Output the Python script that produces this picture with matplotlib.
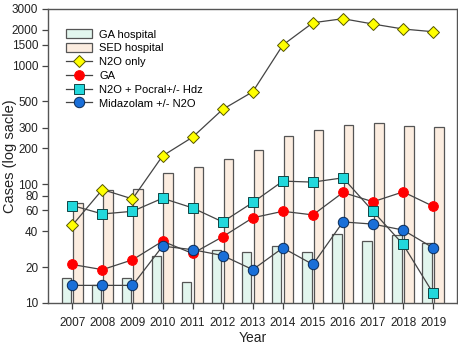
import matplotlib
matplotlib.use("Agg")
import matplotlib.pyplot as plt
from matplotlib.ticker import FixedLocator, NullLocator, FixedFormatter
import numpy as np

years = [2007, 2008, 2009, 2010, 2011, 2012, 2013, 2014, 2015, 2016, 2017, 2018, 2019]
ga_hospital = [16, 14, 16, 25, 15, 28, 27, 30, 27, 38, 33, 37, 32]
sed_hospital = [69, 89, 91, 123, 139, 163, 195, 254, 284, 315, 326, 309, 303]
n2o_only = [45, 90, 75, 173, 249, 427, 601, 1489, 2296, 2483, 2239, 2033, 1928]
ga = [21, 19, 23, 33, 26, 36, 52, 59, 55, 85, 71, 86, 65]
n2o_pocral = [66, 56, 59, 76, 63, 48, 70, 106, 104, 113, 59, 31, 12]
midazolam = [14, 14, 14, 30, 28, 25, 19, 29, 21, 48, 46, 41, 29]
yticks = [10, 20, 40, 60, 80, 100, 200, 300, 500, 1000, 1500, 2000, 3000]

plt.rcParams['font.family'] = ['Liberation Sans', 'DejaVu Sans']

fig = plt.figure(figsize=(4.58, 3.45), dpi=100)
ax = fig.add_axes([0.1048, 0.1226, 0.997 - 0.1048, 0.974 - 0.1226])

x = np.array(years, dtype=float)
edge = '#555555'
ax.bar(x - 0.2, ga_hospital, width=0.31, color='#E2F6EE', edgecolor=edge, linewidth=0.9,
       label='GA hospital', zorder=1)
ax.bar(x + 0.19, sed_hospital, width=0.32, color='#FCEDE0', edgecolor=edge, linewidth=0.9,
       label='SED hospital', zorder=1)

lc = '#444444'
ax.plot(x, n2o_only, '-', color=lc, lw=0.9, marker='D', ms=6.5, mfc='#FFFF00', mec='#555500',
        mew=0.7, label='N2O only', zorder=3)
ax.plot(x, ga, '-', color=lc, lw=0.9, marker='o', ms=7, mfc='#FF0000', mec='#FF0000',
        mew=0.7, label='GA', zorder=3)
ax.plot(x, n2o_pocral, '-', color=lc, lw=0.9, marker='s', ms=6.5, mfc='#22D8DC', mec='#114444',
        mew=0.7, label='N2O + Pocral+/- Hdz', zorder=3)
ax.plot(x, midazolam, '-', color=lc, lw=0.9, marker='o', ms=7.5, mfc='#1A6FD8', mec='#0A2A55',
        mew=0.7, label='Midazolam +/- N2O', zorder=3)

ax.set_yscale('log')
ax.set_ylim(10, 3000)
ax.set_xlim(2006.19, 2019.78)
ax.yaxis.set_major_locator(FixedLocator(yticks))
ax.yaxis.set_major_formatter(FixedFormatter([str(t) for t in yticks]))
ax.yaxis.set_minor_locator(NullLocator())
ax.set_xticks(years)
ax.set_xticklabels([str(y) for y in years])
ax.tick_params(axis='both', direction='out', labelsize=8.5, length=4, color='#444444',
               labelcolor='#222222', width=0.9)
ax.tick_params(axis='x', pad=6)
ax.tick_params(axis='y', pad=3)
for s in ax.spines.values():
    s.set_color('#555555')
    s.set_linewidth(1.0)

ax.set_ylabel('Cases (log sacle)', fontsize=10.5, color='#222222')
ax.yaxis.set_label_coords(-0.077, 0.5)
ax.set_xlabel('Year', fontsize=10, color='#222222')
ax.xaxis.set_label_coords(0.5, -0.097)

handles, labels = ax.get_legend_handles_labels()
order = [4, 5, 0, 1, 2, 3]
leg = ax.legend([handles[i] for i in order], [labels[i] for i in order],
                loc='upper left', bbox_to_anchor=(0.044, 0.931), frameon=False, fontsize=8,
                handlelength=2.35, handleheight=0.9, labelspacing=0.3, handletextpad=0.65,
                borderaxespad=0.0, borderpad=0.0)

fig.savefig('out.png', dpi=100)
